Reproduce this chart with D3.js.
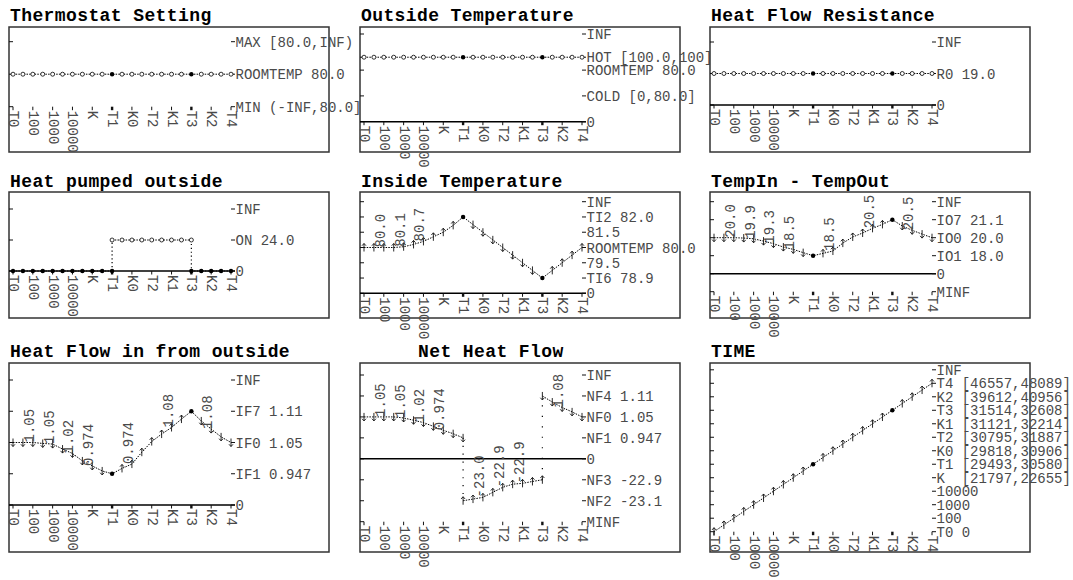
<!DOCTYPE html>
<html>
<head>
<meta charset="utf-8">
<script src="https://cdn.jsdelivr.net/npm/d3@7/dist/d3.min.js"></script>
<style>
  body { margin: 0; background: #fff; }
  text { font-family: "Courier New", "Liberation Mono", monospace; white-space: pre; }
</style>
</head>
<body>
<svg id="chart" width="1073" height="580"></svg>
<script>
// time axis: landmarks, with an interval between each pair (23 steps in all)
const timeLabels = ["T0", "100", "1000", "10000", "K", "T1", "K0", "T2", "K1", "T3", "K2", "T4"];
const keyTimes = ["T1", "T3"];

// marks: o = steady, f = steady (landmark), u = increasing, d = decreasing

// Thermostat Setting
const thermoLevels = [["MIN (-INF,80.0]", 0], ["ROOMTEMP 80.0", 1], ["MAX [80.0,INF)", 2]];
const thermoValues = [1, 1, 1, 1, 1, 1, 1, 1, 1, 1, 1, 1, 1, 1, 1, 1, 1, 1, 1, 1, 1, 1, 1];
const thermoMarks = "oooooooooofooooooofoooo";

// Outside Temperature
const outsideLevels = [["0", 0], ["COLD [0,80.0]", 1], ["ROOMTEMP 80.0", 2], ["HOT [100.0,100]", 2.5], ["INF", 3.4]];
const outsideValues = [2.5, 2.5, 2.5, 2.5, 2.5, 2.5, 2.5, 2.5, 2.5, 2.5, 2.5, 2.5, 2.5, 2.5, 2.5, 2.5, 2.5, 2.5, 2.5, 2.5, 2.5, 2.5, 2.5];
const outsideMarks = "oooooooooofooooooofoooo";

// Heat Flow Resistance
const resistLevels = [["0", 0], ["R0 19.0", 1], ["INF", 2]];
const resistValues = [1, 1, 1, 1, 1, 1, 1, 1, 1, 1, 1, 1, 1, 1, 1, 1, 1, 1, 1, 1, 1, 1, 1];
const resistMarks = "oooooooooofooooooofoooo";

// Heat pumped outside (three pieces)
const pumpLevels = [["0", 0], ["ON 24.0", 1], ["INF", 2]];
const pumpOffValues = [0, 0, 0, 0, 0, 0, 0, 0, 0, 0, 0];
const pumpOnValues = [1, 1, 1, 1, 1, 1, 1, 1, 1];
const pumpOffAgainValues = [0, 0, 0, 0, 0];

// Inside Temperature
const insideLevels = [["0", 0], ["TI6 78.9", 1], ["79.5", 2], ["ROOMTEMP 80.0", 3], ["81.5", 4], ["TI2 82.0", 5], ["INF", 6]];
const insideValues = [3, 3, 3, 3, 3.05, 3.2, 3.4, 3.7, 4, 4.45, 5, 4.5, 4, 3.5, 3, 2.5, 2, 1.5, 1, 1.5, 2, 2.5, 3];
const insideMarks = "uuuuuuuuuufdddddddfuuuu";
const insideNotes = [[2, "80.0"], [4, "80.1"], [6, "80.7"]];

// TempIn - TempOut
const diffLevels = [["MINF", 0], ["0", 1], ["IO1 18.0", 2], ["IO0 20.0", 3], ["IO7 21.1", 4], ["INF", 5]];
const diffValues = [3, 3, 3, 2.98, 2.94, 2.81, 2.67, 2.48, 2.35, 2.17, 2, 2.13, 2.26, 2.7, 3.04, 3.26, 3.52, 3.74, 4, 3.65, 3.41, 3.2, 3];
const diffMarks = "ddddddddddfuuuuuuufdddd";
const diffNotes = [[2, "20.0"], [4, "19.9"], [6, "19.3"], [8, "18.5"], [12, "18.5"], [16, "20.5"], [20, "20.5"]];

// Heat Flow in from outside
const inflowLevels = [["0", 0], ["IF1 0.947", 1], ["IF0 1.05", 2], ["IF7 1.11", 3], ["INF", 4]];
const inflowValues = [2, 2, 2, 1.97, 1.95, 1.79, 1.65, 1.41, 1.25, 1.09, 1, 1.17, 1.31, 1.69, 2.03, 2.27, 2.48, 2.75, 3, 2.69, 2.43, 2.18, 2];
const inflowMarks = "ddddddddddfuuuuuuufdddd";
const inflowNotes = [[2, "1.05"], [4, "1.05"], [6, "1.02"], [8, "0.974"], [12, "0.974"], [16, "1.08"], [20, "1.08"]];

// Net Heat Flow (three pieces)
const netLevels = [["MINF", 0], ["NF2 -23.1", 1], ["NF3 -22.9", 2], ["0", 3], ["NF1 0.947", 4], ["NF0 1.05", 5], ["NF4 1.11", 6], ["INF", 7]];
const netFirstValues = [5, 5, 5, 5, 4.95, 4.84, 4.73, 4.55, 4.36, 4.2, 4];
const netPumpValues = [1, 1.08, 1.16, 1.4, 1.64, 1.79, 1.83, 1.92, 2];
const netLastValues = [6, 5.71, 5.45, 5.24, 5];
const netNotes = [[2, "1.05"], [4, "1.05"], [6, "1.02"], [8, "0.974"], [12, "-23.0"], [14, "-22.9"], [16, "-22.9"], [20, "1.08"]];

// TIME
const timeLevels = [["T0 0", 0], ["100", 1], ["1000", 2], ["10000", 3], ["K  [21797,22655]", 4],
  ["T1 [29493,30580]", 5], ["K0 [29818,30906]", 6], ["T2 [30795,31887]", 7], ["K1 [31121,32214]", 8],
  ["T3 [31514,32608]", 9], ["K2 [39612,40956]", 10], ["T4 [46557,48089]", 11], ["INF", 12]];
const timeValues = [0, 0.5, 1, 1.5, 2, 2.5, 3, 3.5, 4, 4.5, 5, 5.5, 6, 6.5, 7, 7.5, 8, 8.5, 9, 9.5, 10, 10.5, 11];
const timeMarks = "uuuuuuuuuufuuuuuuufuuuu";

// layout
const rows = [
  { top: 27, bottom: 152, titleY: 21 },
  { top: 192, bottom: 318, titleY: 187 },
  { top: 363, bottom: 552, titleY: 357 }
];
const cols = [9, 360, 710];
const boxW = 320;
const labelSize = 14;
const labelFill = "#4a4a4a";

const panels = [
  { title: "Thermostat Setting", row: 0, col: 0, yPx: [106.7, 41.7], levels: thermoLevels,
    pieces: [{ from: 0, values: thermoValues, marks: thermoMarks }] },
  { title: "Outside Temperature", row: 0, col: 1, yPx: [121.7, 34], levels: outsideLevels,
    pieces: [{ from: 0, values: outsideValues, marks: outsideMarks }] },
  { title: "Heat Flow Resistance", row: 0, col: 2, yPx: [105, 42], levels: resistLevels,
    pieces: [{ from: 0, values: resistValues, marks: resistMarks }] },
  { title: "Heat pumped outside", row: 1, col: 0, yPx: [271, 209], levels: pumpLevels,
    pieces: [
      { from: 0, values: pumpOffValues, marks: "fffffffffff" },
      { from: 10, values: pumpOnValues, marks: "ooooooooo" },
      { from: 18, values: pumpOffAgainValues, marks: "fffff" }
    ] },
  { title: "Inside Temperature", row: 1, col: 1, yPx: [293.3, 201.7], levels: insideLevels,
    pieces: [{ from: 0, values: insideValues, marks: insideMarks }], notes: insideNotes },
  { title: "TempIn - TempOut", row: 1, col: 2, yPx: [291.7, 201.7], levels: diffLevels,
    pieces: [{ from: 0, values: diffValues, marks: diffMarks }], notes: diffNotes },
  { title: "Heat Flow in from outside", row: 2, col: 0, yPx: [505, 380], levels: inflowLevels,
    pieces: [{ from: 0, values: inflowValues, marks: inflowMarks }], notes: inflowNotes },
  { title: "Net Heat Flow", titleDx: 57, row: 2, col: 1, yPx: [521.7, 375], levels: netLevels,
    pieces: [
      { from: 0, values: netFirstValues, marks: "ddddddddddd" },
      { from: 10, values: netPumpValues, marks: "uuuuuuuuu" },
      { from: 18, values: netLastValues, marks: "ddddd" }
    ], notes: netNotes },
  { title: "TIME", row: 2, col: 2, yPx: [531.7, 369.8], levels: timeLevels,
    pieces: [{ from: 0, values: timeValues, marks: timeMarks }] }
];

const svg = d3.select("#chart");

function drawPanel(p) {
  const bx = cols[p.col];
  const row = rows[p.row];
  const g = svg.append("g");

  const x = d3.scaleLinear().domain([0, (timeLabels.length - 1) * 2]).range([bx + 4, bx + 222]);
  const y = d3.scaleLinear().domain(d3.extent(p.levels, d => d[1])).range(p.yPx);
  const xEnd = x.range()[1];
  const yBase = y(y.domain()[0]);

  // frame
  g.append("rect")
    .attr("x", bx).attr("y", row.top)
    .attr("width", boxW).attr("height", row.bottom - row.top)
    .attr("fill", "none").attr("stroke", "#333").attr("stroke-width", 1.5);

  // left ticks
  g.selectAll(".lt").data(p.levels).join("line")
    .attr("x1", bx).attr("x2", bx + 4)
    .attr("y1", d => y(d[1])).attr("y2", d => y(d[1]))
    .attr("stroke", "#111");

  // zero line
  p.levels.filter(d => d[0] === "0").forEach(d => {
    g.append("line")
      .attr("x1", bx).attr("x2", xEnd + 4)
      .attr("y1", y(d[1])).attr("y2", y(d[1]))
      .attr("stroke", "#000").attr("stroke-width", 1.5);
  });

  // right-side landmark labels
  g.selectAll(".rt").data(p.levels).join("line")
    .attr("x1", xEnd).attr("x2", xEnd + 4)
    .attr("y1", d => y(d[1])).attr("y2", d => y(d[1]))
    .attr("stroke", "#111");
  g.selectAll(".rl").data(p.levels).join("text")
    .attr("x", xEnd + 4.5)
    .attr("y", d => y(d[1]) + 1)
    .attr("dominant-baseline", "central")
    .attr("font-size", labelSize)
    .attr("fill", labelFill)
    .text(d => d[0]);

  // time ticks along the bottom landmark
  timeLabels.forEach((t, i) => {
    const tx = x(i * 2);
    const key = keyTimes.includes(t);
    g.append("line")
      .attr("x1", tx).attr("x2", tx)
      .attr("y1", yBase).attr("y2", yBase + 3.5)
      .attr("stroke", "#111").attr("stroke-width", key ? 2.4 : 1);
    g.append("text")
      .attr("transform", `translate(${tx},${yBase + 4}) rotate(90)`)
      .attr("dominant-baseline", "central")
      .attr("font-size", labelSize)
      .attr("fill", labelFill)
      .text(t);
  });

  // data lines
  const line = d3.line().x(d => x(d.i)).y(d => y(d.v));
  const pieces = p.pieces.map(pc => pc.values.map((v, k) => ({ i: pc.from + k, v, m: pc.marks[k] })));
  pieces.forEach(pts => {
    g.append("path")
      .attr("d", line(pts))
      .attr("fill", "none")
      .attr("stroke", "#000").attr("stroke-width", 1)
      .attr("stroke-dasharray", "1.5,1.2");
  });

  // dotted jumps between pieces
  for (let k = 1; k < pieces.length; k++) {
    const a = pieces[k - 1][pieces[k - 1].length - 1];
    const b = pieces[k][0];
    const len = Math.abs(y(a.v) - y(b.v));
    g.append("line")
      .attr("x1", x(b.i)).attr("x2", x(b.i))
      .attr("y1", y(a.v)).attr("y2", y(b.v))
      .attr("stroke", "#000").attr("stroke-width", 1.2)
      .attr("stroke-dasharray", `1.2,${len / 8 - 1.2}`);
  }

  // markers
  pieces.flat().forEach(d => {
    const mx = x(d.i), my = y(d.v);
    if (d.m === "o") {
      g.append("circle").attr("cx", mx).attr("cy", my).attr("r", 2)
        .attr("fill", "#fff").attr("stroke", "#000").attr("stroke-width", 0.8);
    } else if (d.m === "f") {
      g.append("circle").attr("cx", mx).attr("cy", my).attr("r", 2.2).attr("fill", "#000");
    } else {
      const s = d.m === "u" ? -1 : 1;
      g.append("path")
        .attr("d", `M${mx},${my - 4 * s}L${mx},${my + 4 * s}M${mx - 2},${my + 1.8 * s}L${mx},${my + 4 * s}L${mx + 2},${my + 1.8 * s}`)
        .attr("fill", "none").attr("stroke", "#111").attr("stroke-width", 0.9);
    }
  });

  // numeric notes above points
  (p.notes || []).forEach(([i, txt]) => {
    const pt = pieces.flat().find(d => d.i === i);
    g.append("text")
      .attr("transform", `translate(${x(i) - 3},${y(pt.v)}) rotate(-90)`)
      .attr("dominant-baseline", "central")
      .attr("font-size", labelSize)
      .attr("fill", labelFill)
      .text(txt);
  });

  // title
  g.append("text")
    .attr("x", bx + 1 + (p.titleDx || 0))
    .attr("y", row.titleY)
    .attr("font-size", 18)
    .attr("font-weight", "bold")
    .attr("letter-spacing", 0.4)
    .attr("fill", "#000")
    .text(p.title);
}

panels.forEach(drawPanel);
</script>
</body>
</html>
